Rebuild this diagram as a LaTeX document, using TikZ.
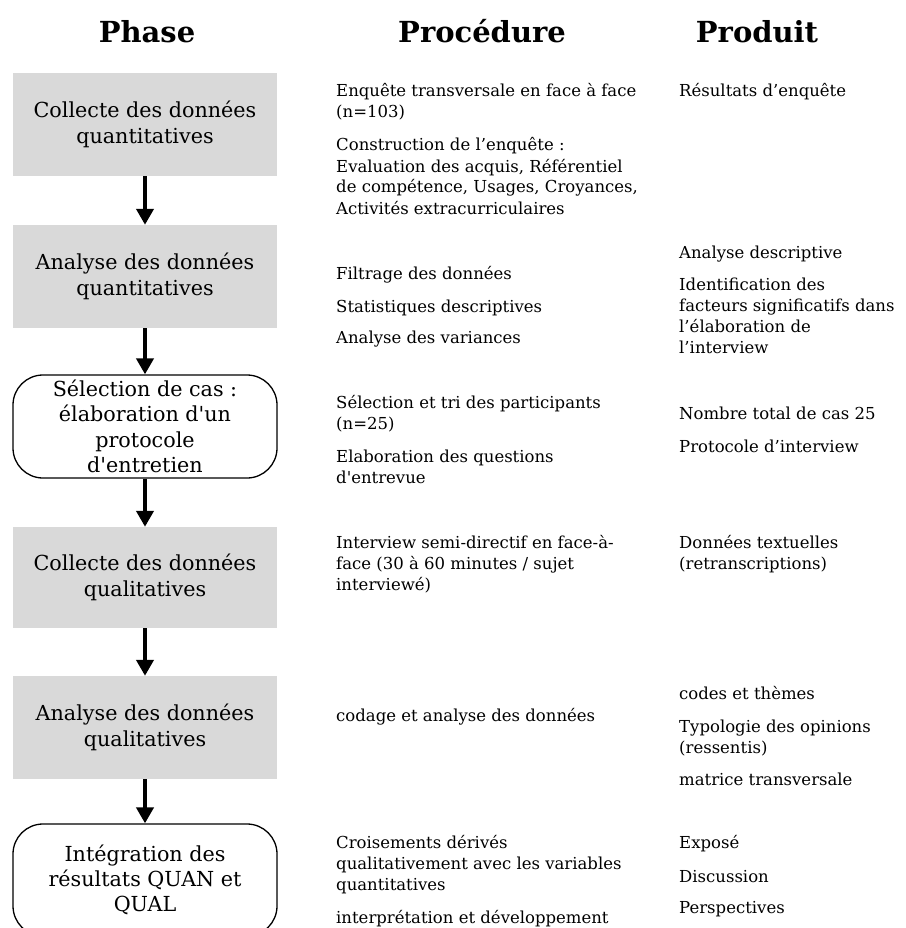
\documentclass[tikz,border=0pt]{standalone}
\usepackage{fontspec}
\setmainfont{DejaVu Serif}[Ligatures=TeXOff]
\usetikzlibrary{arrows.meta}
\definecolor{boxgray}{HTML}{D9D9D9}
\newcommand{\boxfont}{\fontsize{20.7}{25.3}\selectfont}
\newcommand{\bodyfont}{\fontsize{16.5}{21}\selectfont}
\newcommand{\hdrfont}{\fontsize{29}{36}\selectfont\bfseries}
\newcommand{\para}[1]{\parbox[t]{340pt}{\raggedright #1}}
\tikzset{
  phasebox/.style={fill=boxgray, minimum width=264pt, minimum height=103pt, inner sep=0pt, align=center, font=\boxfont},
  roundbox/.style={draw=black, line width=1.3pt, fill=white, rounded corners=30pt, minimum width=264pt, minimum height=103pt, inner sep=0pt, align=center, font=\boxfont},
  flowarrow/.style={line width=4pt, -{Triangle[length=16pt,width=17pt]}},
  hdr/.style={font=\hdrfont, anchor=base, inner sep=0pt},
  txt/.style={font=\bodyfont, anchor=base west, inner sep=0pt},
}
\begin{document}
\begin{tikzpicture}[x=1pt,y=-1pt]
\useasboundingbox (0,0) rectangle (905,928);
% headers
\node[hdr] (hphase) at (147,43) {Phase};
\node[hdr] (hproc) at (482,43) {Procédure};
\node[hdr] (hprod) at (757,43) {Produit};
% phase boxes
\node[phasebox] (b1) at (145,124.5) {Collecte des données\\quantitatives};
\node[phasebox] (b2) at (145,276.5) {Analyse des données\\quantitatives};
\node[roundbox] (b3) at (145,426.5) {Sélection de cas :\\élaboration d'un\\protocole\\d'entretien};
\node[phasebox, minimum height=101pt] (b4) at (145,577.5) {Collecte des données\\qualitatives};
\node[phasebox] (b5) at (145,727.5) {Analyse des données\\qualitatives};
\node[roundbox, minimum height=112pt] (b6) at (145,880) {Intégration des\\résultats QUAN et\\QUAL};
% arrows
\draw[flowarrow] (b1) -- (b2);
\draw[flowarrow] (b2) -- (b3);
\draw[flowarrow] (b3) -- (b4);
\draw[flowarrow] (b4) -- (b5);
\draw[flowarrow] (b5) -- (b6);
% procedure column
\node[txt] (p1) at (336,97) {\para{Enquête transversale en face à face\\(n=103)}};
\node[txt] (p2) at (336,151) {\para{Construction de l’enquête :\\Evaluation des acquis, Référentiel\\de compétence, Usages, Croyances,\\Activités extracurriculaires}};
\node[txt] (p3) at (336,279) {Filtrage des données};
\node[txt] (p4) at (336,312) {Statistiques descriptives};
\node[txt] (p5) at (336,343) {Analyse des variances};
\node[txt] (p6) at (336,408) {\para{Sélection et tri des participants\\(n=25)}};
\node[txt] (p7) at (336,462) {\para{Elaboration des questions\\d'entrevue}};
\node[txt] (p8) at (336,548) {\para{Interview semi-directif en face-à-\\face (30 à 60 minutes / sujet\\interviewé)}};
\node[txt] (p9) at (336,721) {codage et analyse des données};
\node[txt] (p10) at (336,848) {\para{Croisements dérivés\\qualitativement avec les variables\\quantitatives}};
\node[txt] (p11) at (336,923) {interprétation et développement};
% product column
\node[txt] (r1) at (679,97) {Résultats d’enquête};
\node[txt] (r2) at (679,258) {Analyse descriptive};
\node[txt] (r3) at (679,290) {\para{Identification des\\facteurs significatifs dans\\l’élaboration de\\l’interview}};
\node[txt] (r4) at (679,419) {Nombre total de cas 25};
\node[txt] (r5) at (679,452) {Protocole d’interview};
\node[txt] (r6) at (679,548) {\para{Données textuelles\\(retranscriptions)}};
\node[txt] (r7) at (679,699) {codes et thèmes};
\node[txt] (r8) at (679,732) {\para{Typologie des opinions\\(ressentis)}};
\node[txt] (r9) at (679,785) {matrice transversale};
\node[txt] (r10) at (679,848) {Exposé};
\node[txt] (r11) at (679,882) {Discussion};
\node[txt] (r12) at (679,913) {Perspectives};
\end{tikzpicture}
\end{document}
